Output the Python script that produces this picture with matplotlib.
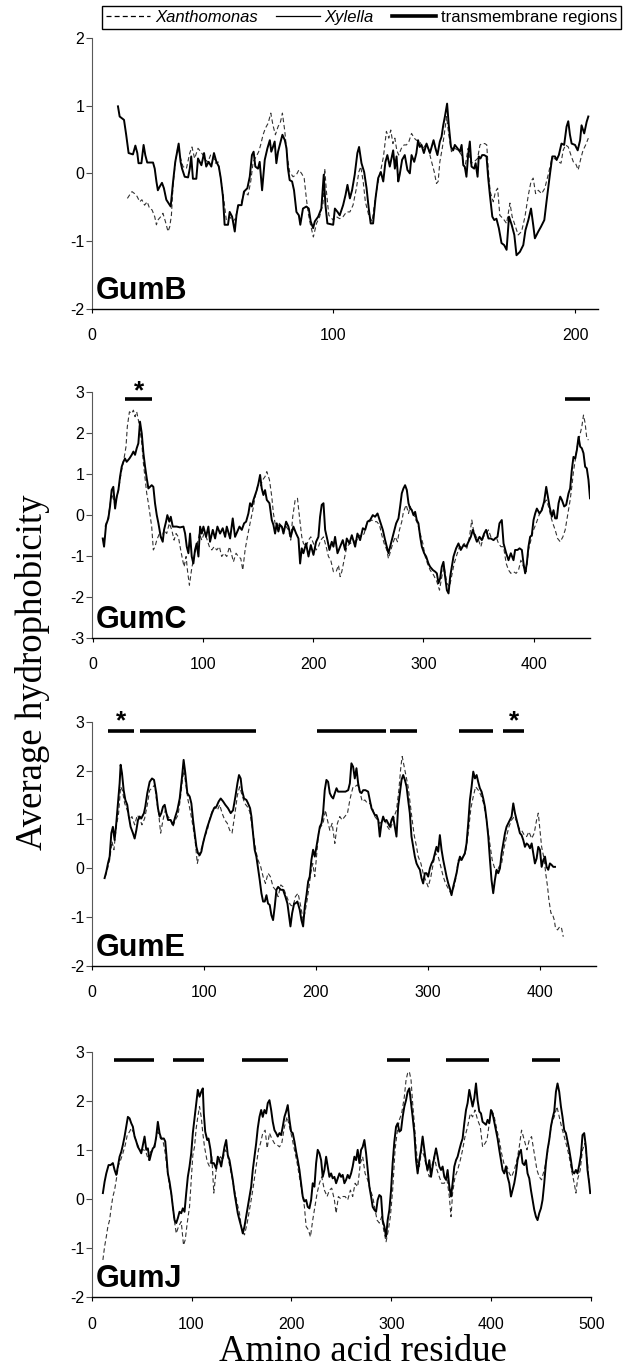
import matplotlib
matplotlib.use("Agg")
import matplotlib.pyplot as plt
from matplotlib.lines import Line2D

plt.rcParams['font.family'] = ['Liberation Sans', 'DejaVu Sans']
plt.rcParams['axes.unicode_minus'] = False

# ---------------- data (residue, average hydrophobicity) ----------------
gumB_xylella = [(10.9,0.99),(11.6,0.84),(13.4,0.79),(14.3,0.57),(15.3,0.30),(17.1,0.28),(18.1,0.41),(18.9,0.30),(19.4,0.15),(20.6,0.15),(21.5,0.42),(22.2,0.27),(23.0,0.16),(25.4,0.16),(26.1,0.07),(26.8,-0.12),(27.4,-0.25),(28.1,-0.20),(29.1,-0.14),(29.9,-0.22),(30.9,-0.39),(32.7,-0.49),(33.7,-0.12),(34.6,0.17),(36.0,0.44),(36.8,0.17),(37.4,0.07),(38.5,-0.05),(39.9,-0.06),(40.6,0.07),(41.2,0.25),(41.9,-0.08),(43.3,-0.08),(44.0,0.22),(45.4,0.12),(46.5,0.30),(47.4,0.10),(48.4,0.17),(49.5,0.10),(50.6,0.30),(51.6,0.17),(52.6,0.10),(53.4,-0.07),(54.3,-0.34),(55.0,-0.76),(56.4,-0.76),(57.1,-0.57),(58.1,-0.64),(59.2,-0.86),(59.9,-0.62),(60.6,-0.47),(62.0,-0.47),(63.0,-0.27),(64.4,-0.22),(65.4,-0.05),(66.3,0.27),(67.0,0.32),(67.7,0.10),(68.8,0.07),(69.5,0.17),(70.5,-0.25),(71.6,0.20),(72.7,0.37),(73.7,0.49),(74.3,0.32),(75.0,0.39),(75.7,0.47),(76.4,0.15),(77.1,0.32),(78.2,0.47),(78.9,0.57),(79.9,0.49),(80.6,0.37),(81.2,0.07),(81.9,-0.10),(82.9,-0.12),(83.7,-0.25),(84.7,-0.57),(85.7,-0.62),(86.3,-0.76),(87.4,-0.52),(88.8,-0.49),(89.8,-0.52),(90.6,-0.71),(91.6,-0.81),(92.3,-0.71),(93.7,-0.64),(95.0,-0.52),(96.0,-0.02),(96.7,-0.47),(97.5,-0.74),(99.9,-0.76),(100.6,-0.52),(101.7,-0.57),(102.6,-0.62),(104.0,-0.47),(105.0,-0.32),(105.8,-0.17),(106.8,-0.37),(107.7,-0.25),(108.8,-0.02),(109.9,0.30),(110.6,0.39),(111.6,0.15),(112.7,0.02),(113.7,-0.22),(114.6,-0.52),(115.4,-0.74),(116.4,-0.74),(117.4,-0.37),(118.5,-0.07),(119.6,0.02),(120.6,-0.12),(121.5,0.17),(122.3,0.27),(123.3,0.10),(124.7,0.34),(125.4,0.07),(126.1,0.25),(126.8,-0.12),(127.4,-0.02),(128.4,0.20),(129.5,0.27),(130.6,0.05),(131.6,0.00),(132.3,0.27),(133.4,0.17),(134.3,0.30),(135.0,0.49),(135.7,0.39),(136.4,0.42),(137.4,0.30),(138.5,0.44),(139.9,0.30),(140.6,0.39),(141.4,0.49),(142.2,0.37),(143.0,0.27),(144.0,0.47),(144.7,0.54),(145.4,0.71),(146.1,0.84),(147.0,1.03),(147.7,0.71),(148.6,0.39),(149.5,0.34),(150.2,0.42),(151.3,0.37),(152.3,0.32),(153.0,0.42),(153.7,0.12),(154.3,0.10),(155.0,-0.05),(155.7,0.27),(156.4,0.47),(157.1,0.10),(158.2,0.07),(158.8,0.15),(159.6,-0.05),(160.1,0.25),(160.8,0.22),(161.5,0.27),(162.3,0.27),(163.3,0.25),(164.0,-0.07),(164.7,-0.32),(165.7,-0.64),(166.5,-0.69),(167.4,-0.67),(168.4,-0.81),(169.5,-1.03),(170.6,-1.06),(171.6,-1.13),(172.6,-0.64),(173.7,-0.76),(174.8,-0.91),(175.7,-1.21),(177.1,-1.16),(178.5,-1.06),(179.4,-0.84),(180.6,-0.69),(181.7,-0.52),(182.6,-0.76),(183.3,-0.96),(184.7,-0.86),(185.8,-0.79),(187.2,-0.69),(188.1,-0.42),(189.5,-0.02),(190.5,0.25),(191.6,0.25),(192.3,0.20),(193.2,0.27),(194.3,0.44),(195.4,0.42),(196.4,0.69),(197.1,0.77),(197.8,0.57),(198.5,0.44),(199.9,0.42),(201.0,0.34),(202.0,0.49),(202.6,0.71),(203.7,0.59),(204.7,0.76),(205.4,0.84)]

gumB_xanthomonas = [(14.8,-0.37),(15.7,-0.32),(16.7,-0.27),(17.8,-0.30),(18.8,-0.34),(19.9,-0.42),(20.8,-0.39),(21.9,-0.47),(23.0,-0.42),(24.0,-0.52),(25.0,-0.54),(26.1,-0.64),(26.8,-0.76),(27.4,-0.69),(28.6,-0.64),(29.5,-0.59),(30.5,-0.71),(31.6,-0.86),(32.3,-0.79),(33.0,-0.62),(33.7,-0.17),(34.6,0.15),(35.7,0.39),(36.8,0.22),(37.8,0.10),(39.2,0.07),(40.6,0.30),(41.5,0.39),(42.6,0.22),(44.0,0.37),(45.1,0.32),(46.1,0.27),(47.0,0.20),(48.1,0.17),(49.2,0.27),(50.2,0.27),(51.2,0.15),(52.3,0.17),(53.4,-0.07),(54.8,-0.42),(55.7,-0.69),(57.1,-0.64),(58.5,-0.71),(59.4,-0.67),(60.6,-0.49),(62.0,-0.42),(63.3,-0.27),(64.7,-0.32),(65.8,-0.12),(66.8,0.17),(68.1,0.25),(69.1,0.32),(69.9,0.42),(70.9,0.57),(71.9,0.67),(73.0,0.74),(74.1,0.89),(75.0,0.71),(76.0,0.57),(77.1,0.69),(78.1,0.76),(78.9,0.89),(79.9,0.62),(80.8,0.27),(81.9,0.02),(83.3,-0.05),(84.7,-0.02),(85.7,0.05),(86.8,0.00),(87.9,-0.07),(88.8,-0.37),(89.5,-0.57),(90.2,-0.71),(91.2,-0.86),(91.7,-0.94),(93.0,-0.74),(94.3,-0.64),(95.7,-0.44),(96.4,0.07),(97.1,-0.27),(98.1,-0.62),(99.9,-0.69),(101.2,-0.64),(102.6,-0.67),(104.0,-0.64),(105.4,-0.57),(106.8,-0.57),(108.1,-0.47),(109.5,-0.22),(110.5,0.02),(111.3,0.10),(112.3,-0.12),(113.2,-0.42),(114.6,-0.62),(116.0,-0.71),(117.1,-0.42),(118.5,-0.12),(119.6,0.05),(120.7,0.25),(121.9,0.62),(122.9,0.52),(123.7,0.64),(124.6,0.44),(125.4,0.52),(126.2,0.34),(127.0,0.27),(128.1,0.37),(129.2,0.42),(130.2,0.42),(131.2,0.47),(132.3,0.59),(133.4,0.52),(134.3,0.49),(135.7,0.47),(137.1,0.37),(138.1,0.42),(139.2,0.37),(140.6,0.17),(141.7,0.02),(142.6,-0.15),(143.3,-0.12),(144.0,0.17),(145.0,0.37),(145.8,0.57),(146.8,0.84),(147.7,0.57),(148.8,0.32),(150.2,0.37),(151.6,0.34),(153.0,0.27),(154.3,0.07),(155.7,0.37),(156.8,0.15),(158.2,0.17),(159.6,0.22),(160.6,0.42),(161.5,0.44),(162.6,0.44),(163.4,0.42),(164.0,0.07),(164.8,-0.27),(166.1,-0.42),(167.0,-0.27),(167.9,-0.22),(168.8,-0.62),(170.2,-0.67),(171.6,-0.74),(173.0,-0.44),(173.9,-0.64),(175.0,-0.76),(176.4,-0.91),(177.8,-0.86),(179.2,-0.64),(180.6,-0.32),(181.7,-0.12),(182.6,-0.07),(183.6,-0.30),(184.7,-0.25),(186.1,-0.30),(187.4,-0.22),(188.8,-0.02),(190.2,0.20),(191.6,0.22),(193.0,0.17),(194.1,0.15),(195.0,0.34),(196.0,0.42),(197.1,0.39),(198.2,0.27),(199.2,0.17),(200.1,0.15),(201.2,0.05),(202.3,0.22),(203.2,0.34),(204.3,0.42),(205.4,0.52)]

gumC_xylella = [(9.1,-0.58),(10.3,-0.78),(12.1,-0.25),(14.2,-0.09),(15.7,0.20),(17.2,0.60),(18.7,0.68),(20.3,0.15),(21.8,0.44),(23.3,0.60),(24.8,0.93),(26.3,1.17),(27.8,1.29),(29.3,1.37),(30.8,1.29),(33.3,1.37),(35.4,1.46),(36.9,1.54),(38.4,1.46),(39.9,1.62),(41.4,1.74),(42.9,2.27),(44.5,1.98),(46.0,1.50),(47.5,1.17),(49.0,0.89),(50.5,0.64),(52.0,0.68),(53.5,0.72),(55.0,0.68),(56.5,0.28),(58.1,-0.01),(59.6,-0.21),(61.7,-0.54),(63.5,-0.66),(64.7,-0.37),(66.5,-0.17),(67.7,-0.01),(69.5,-0.17),(70.8,-0.05),(72.6,-0.29),(73.8,-0.29),(76.2,-0.29),(79.2,-0.31),(82.3,-0.29),(83.8,-0.46),(85.3,-0.78),(86.8,-0.94),(88.3,-0.46),(89.8,-1.02),(91.3,-1.19),(92.8,-0.86),(94.3,-0.70),(95.9,-1.02),(97.4,-0.29),(98.9,-0.46),(100.4,-0.29),(102.8,-0.54),(104.9,-0.29),(106.4,-0.66),(108.9,-0.37),(111.0,-0.58),(113.1,-0.29),(115.5,-0.46),(117.9,-0.33),(120.1,-0.54),(121.6,-0.29),(124.6,-0.58),(127.0,-0.09),(129.1,-0.54),(131.2,-0.41),(133.1,-0.29),(135.2,-0.37),(137.3,-0.21),(139.1,-0.17),(141.2,0.03),(142.7,0.28),(144.3,0.20),(145.8,0.36),(148.8,0.60),(150.3,0.76),(151.8,0.97),(153.3,0.64),(154.8,0.48),(156.3,0.60),(157.9,0.36),(160.3,0.28),(162.4,-0.13),(163.9,-0.25),(165.4,-0.46),(166.9,-0.21),(168.4,-0.41),(169.9,-0.25),(171.5,-0.29),(173.0,-0.46),(175.4,-0.17),(177.5,-0.29),(179.6,-0.54),(182.0,-0.29),(184.5,-0.46),(186.6,-0.58),(188.1,-1.19),(189.6,-0.82),(191.1,-0.94),(193.5,-0.70),(195.7,-1.02),(197.8,-0.74),(200.2,-0.98),(202.6,-0.66),(204.7,-0.54),(206.2,-0.05),(207.7,0.24),(209.3,0.28),(210.8,-0.37),(212.9,-0.62),(214.7,-0.86),(216.8,-0.66),(218.3,-0.78),(219.8,-0.54),(222.0,-0.94),(224.4,-0.78),(226.8,-0.62),(228.9,-0.86),(230.4,-0.58),(232.8,-0.70),(235.0,-0.50),(238.0,-0.78),(240.1,-0.46),(242.5,-0.62),(245.0,-0.33),(247.1,-0.37),(249.2,-0.17),(251.6,-0.13),(254.0,-0.01),(256.1,-0.05),(258.3,0.03),(260.7,-0.17),(263.1,-0.37),(265.2,-0.62),(266.7,-0.78),(268.2,-0.94),(269.7,-0.78),(271.2,-0.62),(272.8,-0.46),(275.2,-0.21),(277.3,-0.09),(278.8,0.20),(280.3,0.52),(281.8,0.64),(283.3,0.72),(284.9,0.60),(286.4,0.28),(287.9,0.15),(289.4,0.11),(290.9,-0.01),(292.4,0.07),(293.9,-0.13),(295.4,-0.21),(297.0,-0.54),(298.5,-0.78),(300.6,-0.94),(302.4,-1.02),(304.5,-1.19),(306.0,-1.27),(308.5,-1.35),(310.6,-1.39),(312.1,-1.43),(313.6,-1.67),(315.1,-1.55),(316.6,-1.27),(318.1,-1.15),(319.6,-1.51),(321.2,-1.84),(322.7,-1.92),(324.2,-1.51),(325.7,-1.27),(327.2,-1.02),(329.6,-0.82),(331.7,-0.70),(333.8,-0.86),(336.3,-0.74),(338.7,-0.78),(340.8,-0.66),(342.9,-0.54),(344.7,-0.37),(346.8,-0.54),(348.4,-0.66),(350.8,-0.54),(352.9,-0.62),(355.0,-0.46),(356.8,-0.37),(358.9,-0.58),(361.1,-0.58),(363.5,-0.62),(365.0,-0.58),(367.1,-0.54),(368.9,-0.21),(371.0,-0.13),(372.6,-0.70),(375.0,-0.94),(377.1,-1.11),(379.2,-0.94),(381.6,-1.11),(383.1,-0.86),(385.3,-0.86),(387.1,-0.82),(389.2,-0.86),(390.7,-1.19),(392.2,-1.43),(393.7,-1.19),(395.2,-0.78),(396.7,-0.54),(398.2,-0.50),(399.8,-0.13),(401.3,0.03),(402.8,0.15),(405.2,0.03),(407.3,0.11),(409.4,0.32),(411.3,0.68),(412.8,0.44),(414.3,0.20),(416.4,-0.05),(417.9,0.11),(419.4,-0.09),(420.9,-0.09),(422.5,0.28),(424.0,0.44),(425.5,0.36),(427.6,0.20),(429.4,0.24),(431.5,0.52),(433.0,0.64),(434.5,1.09),(436.0,1.41),(437.6,1.37),(439.1,1.58),(440.6,1.90),(442.1,1.66),(443.6,1.62),(445.1,1.50),(446.6,1.17),(448.1,1.13),(449.6,0.85),(451.0,0.40)]

gumC_xanthomonas = [(11.2,-0.29),(14.2,-0.05),(17.2,0.52),(20.3,0.24),(23.3,0.60),(26.3,1.09),(28.4,1.37),(30.2,1.66),(31.4,2.15),(33.3,2.51),(35.4,2.47),(36.9,2.55),(38.4,2.39),(39.9,2.51),(41.4,2.31),(42.9,2.07),(44.5,1.74),(46.0,1.25),(47.5,0.89),(49.0,0.52),(50.5,0.28),(52.0,-0.01),(53.5,-0.29),(55.0,-0.86),(56.5,-0.78),(58.1,-0.62),(60.5,-0.46),(62.6,-0.58),(64.7,-0.37),(67.1,-0.46),(69.5,-0.21),(71.7,-0.37),(73.8,-0.62),(75.6,-0.46),(77.7,-0.54),(79.8,-0.86),(81.6,-1.11),(82.9,-1.27),(84.7,-1.02),(85.9,-1.35),(87.7,-1.72),(89.8,-1.31),(91.9,-1.02),(94.3,-0.78),(96.8,-0.46),(98.9,-0.62),(101.0,-0.46),(103.4,-0.58),(105.8,-0.78),(108.0,-0.86),(110.1,-0.78),(112.5,-0.86),(114.9,-0.78),(117.0,-1.02),(119.1,-0.94),(121.6,-1.02),(124.0,-0.78),(126.1,-0.98),(127.6,-1.15),(130.0,-0.94),(132.1,-1.02),(134.3,-1.07),(136.1,-1.35),(138.2,-0.86),(140.3,-0.54),(142.7,-0.21),(145.2,0.11),(147.3,0.44),(149.4,0.68),(151.8,0.68),(154.2,0.85),(156.3,0.93),(157.9,1.05),(160.3,0.85),(162.4,0.44),(163.9,0.03),(165.4,-0.21),(167.5,-0.37),(169.3,-0.21),(171.5,-0.29),(173.6,-0.37),(175.4,-0.29),(177.5,-0.37),(179.6,-0.62),(181.4,-0.05),(183.6,0.36),(185.7,0.40),(187.5,-0.05),(189.6,-0.54),(191.1,-0.70),(193.5,-0.78),(195.7,-0.62),(197.8,-0.54),(200.2,-0.70),(202.6,-0.86),(204.7,-0.78),(206.8,-0.62),(209.3,-0.54),(211.7,-0.78),(213.8,-1.02),(215.9,-1.11),(218.3,-1.39),(220.8,-1.39),(222.9,-1.23),(224.4,-1.51),(225.9,-1.39),(228.0,-1.11),(230.4,-0.78),(233.5,-0.70),(236.5,-0.66),(239.5,-0.62),(241.9,-0.50),(244.0,-0.54),(246.2,-0.46),(248.6,-0.21),(251.0,-0.17),(253.1,-0.13),(255.2,-0.17),(257.6,-0.17),(260.1,-0.25),(262.2,-0.50),(264.3,-0.70),(266.7,-0.86),(268.2,-1.07),(270.4,-0.86),(272.2,-0.70),(274.3,-0.54),(276.4,-0.66),(278.2,-0.37),(280.3,-0.17),(281.8,0.07),(284.3,0.24),(286.4,0.03),(287.9,0.20),(290.3,0.07),(292.4,-0.09),(294.5,-0.21),(297.0,-0.46),(299.4,-0.70),(301.5,-1.02),(303.6,-1.19),(306.0,-1.35),(309.1,-1.47),(312.1,-1.63),(314.5,-1.84),(316.6,-1.51),(318.7,-1.27),(321.2,-1.67),(323.6,-1.76),(325.7,-1.47),(327.8,-1.19),(330.2,-0.98),(332.7,-0.78),(334.8,-0.78),(336.9,-0.70),(339.3,-0.82),(341.7,-0.54),(343.8,-0.13),(345.3,-0.37),(347.8,-0.54),(349.9,-0.62),(352.0,-0.78),(354.4,-0.54),(356.8,-0.46),(358.9,-0.37),(361.1,-0.54),(363.5,-0.62),(365.9,-0.54),(368.0,-0.70),(370.2,-0.78),(372.6,-0.78),(375.0,-1.19),(377.1,-1.35),(379.2,-1.43),(381.6,-1.39),(384.0,-1.43),(386.2,-1.35),(388.3,-1.11),(390.7,-1.27),(393.1,-1.39),(395.2,-0.86),(397.4,-0.62),(399.8,-0.37),(402.2,-0.21),(404.3,-0.05),(406.4,0.11),(408.9,0.24),(411.3,0.36),(413.4,0.20),(415.5,-0.05),(417.3,-0.21),(419.4,-0.37),(421.6,-0.58),(424.0,-0.66),(426.4,-0.54),(428.5,-0.37),(430.0,-0.13),(431.5,0.11),(433.0,0.36),(434.5,0.68),(436.0,1.05),(437.6,1.33),(439.1,1.62),(441.5,1.90),(443.6,2.15),(445.1,2.43),(446.6,2.23),(448.1,1.86),(449.6,1.82)]

gumE_xylella = [(11.6,-0.20),(13.1,-0.07),(14.6,0.10),(16.1,0.24),(17.6,0.72),(19.0,0.85),(20.5,0.58),(22.0,0.92),(23.5,1.33),(25.0,1.74),(25.9,2.12),(27.1,1.95),(28.6,1.60),(30.1,1.40),(31.8,1.30),(33.0,1.09),(34.8,0.85),(36.9,0.72),(38.4,0.61),(39.9,0.78),(41.4,0.99),(42.9,1.06),(44.3,1.02),(46.7,1.13),(47.9,1.26),(49.7,1.54),(51.8,1.77),(53.9,1.84),(55.7,1.81),(57.7,1.54),(59.2,1.23),(60.7,1.06),(62.2,1.13),(63.7,1.26),(65.2,1.30),(66.7,1.13),(68.2,0.99),(70.5,0.99),(72.6,0.89),(74.7,1.06),(76.5,1.19),(78.6,1.43),(80.7,1.88),(82.1,2.22),(83.6,1.95),(85.4,1.54),(87.5,1.47),(89.0,1.33),(90.5,0.99),(92.0,0.72),(93.5,0.44),(94.9,0.31),(96.4,0.27),(97.9,0.34),(99.4,0.51),(100.9,0.65),(103.3,0.85),(105.4,0.99),(107.4,1.13),(109.2,1.23),(111.3,1.26),(113.4,1.37),(115.2,1.43),(117.3,1.37),(119.3,1.30),(121.7,1.23),(124.1,1.13),(126.2,1.19),(128.3,1.47),(130.1,1.74),(131.5,1.91),(133.0,1.84),(134.2,1.60),(136.0,1.43),(138.1,1.40),(139.6,1.33),(141.4,1.23),(142.6,1.06),(144.0,0.72),(145.5,0.38),(147.0,0.24),(148.5,0.00),(150.0,-0.24),(151.5,-0.51),(153.0,-0.68),(154.5,-0.68),(156.0,-0.55),(157.4,-0.72),(158.9,-0.75),(160.4,-0.96),(161.9,-1.06),(163.4,-0.78),(164.9,-0.44),(166.4,-0.38),(168.8,-0.44),(170.8,-0.44),(172.9,-0.58),(174.7,-0.72),(176.2,-0.99),(177.4,-1.19),(178.9,-0.92),(180.7,-0.72),(181.8,-0.72),(183.6,-0.68),(185.7,-0.85),(187.2,-1.06),(188.7,-1.19),(190.2,-0.78),(191.7,-0.55),(193.2,-0.27),(194.6,-0.17),(196.1,0.17),(197.6,0.38),(199.1,0.24),(200.6,0.44),(202.1,0.65),(203.6,0.85),(205.1,0.92),(206.5,1.13),(208.0,1.60),(209.5,1.81),(211.0,1.77),(212.5,1.54),(214.0,1.47),(215.5,1.43),(217.0,1.54),(218.5,1.64),(219.9,1.57),(222.3,1.57),(224.4,1.57),(226.5,1.57),(228.9,1.60),(230.4,1.74),(231.8,2.15),(233.3,2.08),(234.8,1.84),(236.3,2.05),(237.8,1.74),(239.3,1.57),(240.8,1.54),(242.3,1.60),(244.3,1.60),(246.7,1.57),(248.2,1.40),(249.7,1.23),(251.2,1.16),(252.7,1.09),(254.2,1.09),(255.7,0.99),(257.1,0.65),(258.6,0.92),(260.1,1.06),(261.6,0.96),(263.1,0.99),(264.6,0.92),(266.1,0.85),(267.6,0.99),(269.0,1.06),(270.5,0.85),(272.0,0.65),(273.5,1.26),(275.0,1.54),(276.5,1.81),(278.0,1.91),(279.5,1.81),(281.0,1.67),(282.4,1.40),(283.9,1.13),(285.4,0.65),(286.9,0.44),(288.4,0.24),(289.9,0.10),(291.4,0.03),(292.9,-0.03),(294.3,-0.20),(295.8,-0.31),(297.3,-0.10),(298.8,-0.10),(300.3,-0.17),(301.8,0.00),(303.3,0.10),(304.8,0.17),(306.3,0.31),(307.7,0.44),(309.2,0.34),(310.7,0.68),(312.2,0.38),(313.7,0.17),(315.2,0.00),(316.7,-0.17),(318.2,-0.31),(319.6,-0.41),(321.1,-0.55),(322.6,-0.38),(324.1,-0.24),(325.6,-0.10),(327.1,0.10),(328.6,0.24),(330.1,0.17),(331.5,0.24),(333.0,0.31),(334.5,0.51),(336.0,0.92),(337.5,1.40),(339.0,1.67),(340.5,1.98),(342.0,1.84),(343.5,1.91),(344.9,1.77),(346.4,1.64),(347.9,1.57),(349.4,1.43),(350.9,1.26),(352.4,0.99),(353.9,0.65),(355.4,0.17),(356.8,-0.24),(358.3,-0.51),(359.8,-0.24),(361.3,-0.03),(362.8,-0.10),(364.3,0.00),(365.8,0.31),(367.3,0.51),(368.8,0.72),(370.2,0.85),(371.7,0.92),(373.2,0.99),(374.7,1.06),(376.2,1.33),(377.7,1.13),(379.2,0.99),(380.7,0.85),(382.1,0.72),(383.6,0.68),(385.1,0.58),(386.6,0.44),(388.1,0.51),(389.6,0.48),(391.1,0.41),(392.6,0.51),(394.0,0.31),(395.5,0.10),(397.0,0.20),(398.5,0.44),(400.0,0.38),(401.5,0.03),(403.0,0.17),(404.5,0.24),(405.9,0.03),(407.4,-0.03),(408.9,0.10),(410.4,0.07),(411.9,0.03),(413.4,0.03)]

gumE_xanthomonas = [(12.2,-0.17),(14.0,-0.03),(16.1,0.17),(18.2,0.55),(19.9,0.38),(22.0,0.85),(24.1,1.13),(25.9,1.67),(27.4,1.60),(29.5,1.33),(31.8,1.19),(33.9,0.99),(36.0,1.06),(38.4,0.89),(40.8,1.09),(42.9,1.02),(44.9,0.89),(47.3,1.02),(49.7,1.30),(51.8,1.60),(53.9,1.64),(56.3,1.71),(57.7,1.43),(59.8,1.13),(61.6,0.72),(63.7,0.99),(65.8,1.19),(68.2,1.06),(70.5,0.99),(72.6,0.85),(74.7,0.99),(77.1,1.09),(78.9,1.37),(81.0,1.81),(82.4,2.01),(83.9,1.74),(86.0,1.40),(88.4,1.13),(90.5,0.85),(92.6,0.51),(94.3,0.10),(96.4,0.31),(98.5,0.44),(100.9,0.65),(103.3,0.78),(105.4,1.02),(107.4,1.16),(109.8,1.26),(112.2,1.19),(114.3,1.30),(116.4,1.13),(118.8,0.99),(121.1,0.92),(123.2,0.78),(125.3,0.72),(127.7,1.09),(130.1,1.50),(132.1,1.67),(134.2,1.50),(136.6,1.33),(139.0,1.26),(141.1,1.16),(143.2,0.85),(145.5,0.51),(147.0,0.31),(148.5,0.17),(150.9,0.03),(153.0,-0.17),(155.1,-0.31),(157.4,-0.10),(159.5,-0.17),(161.9,-0.38),(164.0,-0.44),(166.4,-0.58),(168.8,-0.34),(170.8,-0.38),(172.9,-0.51),(175.3,-0.65),(177.4,-0.75),(179.8,-0.78),(181.8,-0.58),(184.2,-0.51),(186.6,-0.78),(188.7,-1.06),(190.2,-0.92),(192.3,-0.65),(194.0,-0.38),(195.5,-0.10),(197.3,0.10),(199.1,-0.17),(200.9,0.31),(202.7,0.78),(204.5,0.85),(206.5,0.92),(208.6,1.19),(210.4,0.99),(212.5,0.78),(214.6,0.92),(217.0,0.51),(219.3,0.92),(221.4,1.06),(223.5,0.99),(225.9,1.06),(228.3,1.13),(230.4,1.40),(231.8,1.54),(233.3,1.67),(234.8,1.67),(237.2,1.71),(239.3,1.57),(241.4,1.37),(243.8,1.40),(246.1,1.33),(248.2,1.33),(250.3,1.26),(252.7,1.06),(255.1,0.99),(257.1,0.92),(259.2,0.96),(261.6,0.99),(264.0,0.85),(266.1,0.78),(268.2,0.92),(269.9,1.06),(272.0,1.19),(274.1,1.60),(275.9,2.08),(277.1,2.29),(278.9,2.08),(281.0,1.84),(282.4,1.67),(284.2,1.33),(286.0,0.99),(287.8,0.68),(289.9,0.44),(291.4,0.24),(293.8,0.10),(295.8,-0.10),(297.9,-0.24),(300.3,-0.38),(302.7,-0.17),(304.8,0.10),(306.8,0.31),(309.2,0.24),(311.6,0.03),(313.7,-0.17),(315.8,-0.31),(318.2,-0.41),(320.5,-0.51),(322.6,-0.44),(324.7,-0.24),(327.1,0.17),(329.5,0.17),(331.5,0.24),(333.6,0.31),(336.0,0.72),(338.4,1.23),(340.5,1.47),(342.6,1.67),(345.0,1.60),(347.3,1.50),(349.7,1.33),(351.8,1.06),(353.9,0.72),(355.7,0.44),(357.4,0.17),(359.2,0.03),(361.3,-0.10),(363.4,0.03),(365.8,0.10),(368.2,0.44),(370.2,0.65),(372.3,0.85),(374.7,0.99),(377.1,1.06),(379.2,0.96),(381.3,0.82),(383.6,0.78),(386.0,0.68),(388.1,0.65),(390.2,0.75),(392.6,0.61),(394.9,0.72),(397.0,0.99),(398.5,1.13),(400.0,0.78),(401.5,0.44),(403.9,0.17),(405.1,-0.10),(406.8,-0.38),(408.0,-0.65),(409.8,-0.92),(410.9,-0.92),(412.8,-1.06),(413.9,-1.23),(415.7,-1.26),(417.8,-1.19),(419.3,-1.23),(420.8,-1.40)]

gumJ_xylella = [(11.3,0.12),(13.0,0.35),(14.7,0.52),(17.0,0.69),(19.0,0.69),(21.3,0.73),(23.0,0.59),(24.7,0.49),(26.3,0.66),(28.0,0.86),(29.7,0.96),(31.3,1.10),(33.0,1.27),(34.7,1.47),(36.3,1.67),(38.0,1.64),(39.7,1.54),(41.3,1.47),(43.0,1.27),(44.7,1.17),(46.3,1.06),(48.0,1.00),(49.7,0.93),(51.3,1.10),(53.0,1.27),(54.7,1.00),(56.3,1.03),(58.0,0.79),(59.7,0.93),(61.3,1.03),(63.0,1.06),(64.7,1.27),(66.3,1.57),(68.0,1.34),(69.7,1.23),(72.3,1.23),(73.7,1.17),(75.0,0.86),(76.3,0.52),(78.0,0.35),(79.7,0.12),(81.3,-0.16),(83.0,-0.43),(84.7,-0.49),(86.3,-0.39),(88.0,-0.26),(89.7,-0.29),(91.3,-0.19),(93.0,-0.26),(94.7,0.12),(96.3,0.45),(98.0,0.66),(99.7,0.93),(101.3,1.34),(103.0,1.64),(104.7,1.95),(106.3,2.22),(108.0,2.08),(109.7,2.18),(111.3,2.25),(112.3,1.74),(113.7,1.37),(115.7,1.20),(117.0,1.23),(119.0,1.00),(120.3,0.73),(122.3,0.73),(124.7,0.62),(126.3,0.86),(128.0,0.79),(129.7,0.66),(131.3,0.86),(133.0,1.06),(134.7,1.20),(136.3,0.89),(138.0,0.79),(139.7,0.59),(141.3,0.39),(143.0,0.12),(144.7,-0.09),(146.3,-0.29),(148.0,-0.43),(149.7,-0.56),(151.3,-0.70),(153.0,-0.56),(154.7,-0.36),(156.3,-0.16),(158.0,0.05),(159.7,0.25),(161.3,0.59),(163.0,0.86),(164.7,1.13),(166.3,1.44),(168.0,1.67),(169.7,1.81),(171.3,1.67),(173.0,1.81),(174.7,1.74),(176.3,1.95),(178.0,2.01),(179.7,1.81),(181.3,1.57),(183.0,1.40),(184.7,1.34),(186.3,1.27),(188.0,1.34),(189.7,1.30),(191.3,1.47),(193.0,1.67),(194.7,1.78),(196.3,1.91),(198.0,1.61),(199.7,1.37),(201.3,1.34),(203.0,1.17),(204.7,0.96),(206.3,0.79),(208.0,0.59),(209.7,0.32),(211.3,0.05),(213.0,-0.05),(214.7,-0.02),(216.3,-0.16),(218.0,-0.19),(219.7,-0.02),(221.3,0.32),(223.0,0.25),(224.7,0.73),(226.3,1.00),(228.0,0.93),(229.7,0.79),(231.3,0.45),(233.0,0.59),(234.7,0.86),(236.3,0.66),(238.0,0.45),(239.7,0.52),(241.3,0.42),(243.0,0.45),(244.7,0.32),(246.3,0.42),(248.0,0.52),(249.7,0.45),(251.3,0.49),(253.0,0.32),(254.7,0.39),(256.3,0.49),(258.0,0.42),(259.7,0.52),(261.3,0.66),(263.0,0.86),(264.7,0.79),(266.3,1.00),(268.0,0.73),(269.7,1.00),(271.3,1.06),(273.0,1.20),(274.7,0.93),(276.3,0.59),(278.0,0.25),(279.7,0.05),(281.3,-0.16),(283.0,-0.22),(284.7,-0.26),(286.3,-0.02),(288.0,0.08),(289.7,0.05),(291.3,-0.43),(293.0,-0.56),(294.7,-0.77),(296.3,-0.43),(298.0,-0.22),(299.7,0.18),(301.3,0.73),(303.0,1.17),(304.7,1.47),(306.3,1.54),(308.0,1.37),(309.7,1.40),(311.3,1.67),(313.0,1.88),(314.7,2.01),(316.3,2.18),(318.0,2.25),(319.7,1.95),(321.3,1.67),(323.0,1.34),(324.7,0.79),(326.3,0.52),(328.0,0.79),(329.7,1.00),(331.3,1.27),(333.0,1.00),(334.7,0.73),(336.3,0.59),(338.0,0.79),(339.7,0.45),(341.3,0.66),(343.0,0.86),(344.7,1.03),(346.3,0.86),(348.0,0.66),(349.7,0.59),(351.3,0.66),(353.0,0.45),(354.7,0.39),(356.3,0.59),(358.0,0.25),(359.7,0.05),(361.3,0.32),(363.0,0.66),(364.7,0.79),(366.3,0.86),(368.0,1.00),(369.7,1.13),(371.3,1.23),(373.0,1.54),(374.7,1.81),(376.3,1.95),(378.0,2.22),(379.7,2.05),(381.3,1.88),(383.0,2.05),(384.7,2.35),(386.3,2.01),(388.0,1.78),(389.7,1.74),(391.3,1.57),(393.0,1.54),(394.7,1.51),(396.3,1.61),(398.0,1.54),(399.7,1.81),(401.3,1.74),(403.0,1.57),(404.7,1.40),(406.3,1.23),(408.0,1.00),(409.7,0.79),(411.3,0.59),(413.0,0.52),(414.7,0.66),(416.3,0.45),(418.0,0.32),(419.7,0.05),(421.3,0.18),(423.0,0.32),(424.7,0.52),(426.3,0.79),(428.0,0.93),(429.7,1.00),(431.3,0.73),(433.0,0.69),(434.7,0.79),(436.3,0.52),(438.0,0.42),(439.7,0.18),(441.3,-0.02),(443.0,-0.22),(444.7,-0.36),(446.3,-0.43),(448.0,-0.29),(449.7,-0.19),(451.3,-0.02),(453.0,0.32),(454.7,0.73),(456.3,1.00),(458.0,1.20),(459.7,1.47),(461.3,1.64),(463.0,1.78),(464.7,2.18),(466.3,2.35),(468.0,2.18),(469.7,1.88),(471.3,1.67),(473.0,1.40),(474.7,1.34),(476.3,1.17),(478.0,1.00),(479.7,0.79),(481.3,0.56),(483.0,0.52),(484.7,0.59),(486.3,0.52),(488.0,0.69),(489.7,0.89),(491.3,1.30),(493.0,1.34),(494.7,1.06),(496.3,0.59),(498.0,0.32),(499.0,0.12)]

gumJ_xanthomonas = [(11.3,-1.24),(13.0,-0.97),(14.7,-0.77),(16.3,-0.56),(18.0,-0.43),(19.7,-0.16),(21.3,0.05),(23.0,0.18),(24.7,0.39),(27.0,0.69),(29.0,0.79),(31.3,0.93),(33.7,1.10),(35.7,1.30),(38.0,1.37),(39.7,1.44),(42.3,1.34),(44.7,1.17),(47.0,1.06),(49.7,1.00),(52.3,1.00),(54.7,0.93),(57.0,0.79),(59.0,0.96),(61.3,1.00),(63.7,1.17),(66.3,1.37),(69.0,1.23),(71.3,1.20),(73.7,0.93),(75.7,0.59),(78.0,0.25),(80.3,0.05),(82.3,-0.36),(84.7,-0.70),(87.0,-0.56),(89.7,-0.46),(92.0,-0.94),(93.7,-0.83),(95.7,-0.49),(98.0,-0.16),(99.7,0.39),(101.3,0.89),(103.0,1.06),(104.7,1.44),(106.3,1.67),(108.0,1.88),(109.7,1.67),(111.3,1.34),(113.0,1.06),(115.7,0.76),(118.0,0.66),(120.3,0.86),(122.3,0.12),(124.7,0.59),(127.0,0.79),(129.0,0.86),(131.3,0.79),(133.7,1.00),(135.7,0.93),(138.0,0.69),(140.3,0.45),(143.0,0.18),(145.7,-0.09),(148.0,-0.29),(150.3,-0.63),(153.0,-0.73),(155.7,-0.49),(158.0,-0.22),(160.3,0.05),(162.3,0.32),(164.7,0.66),(167.0,1.00),(169.0,1.13),(171.3,1.34),(173.7,1.40),(175.7,1.03),(178.0,1.34),(180.3,1.23),(183.0,1.13),(185.7,1.10),(188.0,1.06),(190.3,1.13),(193.0,1.47),(195.7,1.67),(198.0,1.47),(200.3,1.27),(203.0,1.00),(205.7,0.73),(208.0,0.45),(210.3,0.18),(213.0,-0.16),(214.7,-0.56),(217.0,-0.63),(219.0,-0.77),(221.3,-0.43),(223.0,-0.22),(225.7,0.12),(228.0,0.32),(230.3,0.45),(233.0,0.18),(235.7,0.05),(238.0,0.18),(240.3,0.22),(243.0,-0.02),(244.7,-0.29),(247.0,0.05),(249.0,0.01),(251.3,0.05),(253.7,0.05),(256.3,-0.02),(259.0,0.18),(261.3,0.05),(263.7,0.32),(266.3,0.25),(269.0,0.73),(271.3,0.86),(273.7,0.52),(276.3,0.39),(279.0,0.18),(281.3,0.05),(283.7,-0.22),(285.7,-0.43),(288.0,-0.49),(290.3,-0.36),(292.3,-0.63),(294.7,-0.87),(297.0,-0.63),(299.0,-0.36),(301.3,0.18),(303.7,1.00),(305.7,1.34),(308.0,1.61),(310.3,1.74),(313.0,2.08),(314.7,2.42),(316.3,2.56),(318.0,2.59),(319.7,2.42),(321.3,1.95),(323.0,1.54),(324.7,1.06),(326.3,0.73),(328.0,0.66),(330.3,1.00),(333.0,0.86),(335.7,0.59),(338.0,0.45),(340.3,0.66),(343.0,0.86),(345.7,0.59),(348.0,0.45),(350.3,0.32),(353.0,0.32),(355.7,0.39),(358.0,0.05),(359.7,-0.36),(361.3,0.12),(363.7,0.45),(366.3,0.59),(369.0,0.79),(371.3,1.00),(373.7,1.27),(376.3,1.47),(379.0,1.74),(381.3,1.67),(383.7,1.81),(386.3,1.61),(389.0,1.47),(391.3,1.06),(393.7,1.13),(395.7,1.20),(398.0,1.54),(400.3,1.81),(403.0,1.67),(405.7,1.40),(408.0,1.20),(410.3,0.93),(413.0,0.69),(415.7,0.66),(418.0,0.52),(420.3,0.45),(423.0,0.59),(425.7,0.79),(428.0,1.06),(430.3,1.40),(433.0,1.20),(435.7,1.00),(438.0,1.20),(440.3,1.27),(443.0,0.93),(445.7,0.59),(448.0,0.45),(450.3,0.39),(453.0,0.59),(455.7,0.86),(458.0,1.20),(460.3,1.54),(463.0,1.67),(465.7,1.88),(468.0,1.67),(470.3,1.47),(473.0,1.27),(475.7,1.06),(478.0,0.86),(480.3,0.59),(483.0,0.32),(484.7,0.12),(486.3,0.39),(489.0,0.59),(491.3,1.00),(493.7,1.13),(496.3,0.73),(498.0,0.32)]

# transmembrane regions (start, end) and starred regions (centre)
gumC_tm = [(29, 54), (428, 451)]
gumC_star = [42]
gumE_tm = [(15, 38), (43, 147), (201, 263), (266, 290), (328, 358), (367, 386)]
gumE_star = [26.5, 377]
gumJ_tm = [(22, 62), (81, 112), (151, 197), (296, 319), (355, 398), (441, 469)]
gumJ_star = []

panel_names = ['GumB', 'GumC', 'GumE', 'GumJ']
legend_labels = ['Xanthomonas', 'Xylella', 'transmembrane regions']
x_label = 'Amino acid residue'
y_label = 'Average hydrophobicity'

# ---------------- figure ----------------
W, H = 627, 1370
fig = plt.figure(figsize=(W / 100, H / 100), dpi=100)


def rect(left, right, top, bottom):
    return [left / W, 1 - bottom / H, (right - left) / W, (bottom - top) / H]


panels = [
    dict(name=panel_names[0], xyl=gumB_xylella, xan=gumB_xanthomonas, tm=[], star=[],
         ylim=(-2, 2), yticks=[-2, -1, 0, 1, 2], xlim=(0, 209.4), xticks=[0, 100, 200],
         box=rect(91.6, 598, 38, 308.7)),
    dict(name=panel_names[1], xyl=gumC_xylella, xan=gumC_xanthomonas, tm=gumC_tm, star=gumC_star,
         ylim=(-3, 3), yticks=[-3, -2, -1, 0, 1, 2, 3], xlim=(-1, 451),
         xticks=[0, 100, 200, 300, 400], box=rect(91.6, 590, 391.7, 637.7)),
    dict(name=panel_names[2], xyl=gumE_xylella, xan=gumE_xanthomonas, tm=gumE_tm, star=gumE_star,
         ylim=(-2, 3), yticks=[-2, -1, 0, 1, 2, 3], xlim=(0, 450),
         xticks=[0, 100, 200, 300, 400], box=rect(91.6, 596, 721.8, 966)),
    dict(name=panel_names[3], xyl=gumJ_xylella, xan=gumJ_xanthomonas, tm=gumJ_tm, star=gumJ_star,
         ylim=(-2, 3), yticks=[-2, -1, 0, 1, 2, 3], xlim=(0, 500),
         xticks=[0, 100, 200, 300, 400, 500], box=rect(91.6, 591.2, 1051.5, 1297.3)),
]

TM_Y = 2.82
for p in panels:
    ax = fig.add_axes(p['box'])
    xs = [a for a, b in p['xan']]
    ys = [b for a, b in p['xan']]
    ax.plot(xs, ys, color='0.2', lw=0.8, dashes=(4, 2.5))
    xs = [a for a, b in p['xyl']]
    ys = [b for a, b in p['xyl']]
    ax.plot(xs, ys, color='black', lw=1.4)
    for a, b in p['tm']:
        ax.plot([a, b], [TM_Y, TM_Y], color='black', lw=2.6, solid_capstyle='butt')
    for s in p['star']:
        ax.text(s, TM_Y + 0.2, '*', ha='center', va='center', fontsize=19,
                fontweight='bold', clip_on=False)
    ax.set_xlim(*p['xlim'])
    ax.set_ylim(*p['ylim'])
    ax.set_xticks(p['xticks'])
    ax.set_yticks(p['yticks'])
    for side in ('top', 'right'):
        ax.spines[side].set_visible(False)
    ax.spines['left'].set_color('0.35')
    ax.spines['left'].set_linewidth(0.8)
    ax.spines['bottom'].set_color('black')
    ax.spines['bottom'].set_linewidth(1.0)
    ax.tick_params(axis='y', direction='out', length=4, width=0.8, pad=1.2,
                   labelsize=11.5, color='0.3')
    ax.tick_params(axis='x', direction='out', length=3, width=0.8, pad=11,
                   labelsize=11.5)
    ax.patch.set_alpha(0)
    ax.annotate(p['name'], xy=(0, 0), xycoords='axes fraction', xytext=(3, 7.2),
                textcoords='offset points', ha='left', va='baseline',
                fontsize=22, fontweight='bold')

# legend
handles = [Line2D([], [], color='black', lw=0.9, dashes=(4, 2.5)),
           Line2D([], [], color='black', lw=0.9),
           Line2D([], [], color='black', lw=2.6)]
leg = fig.legend(handles, legend_labels, loc='upper left',
                 bbox_to_anchor=(102 / W, 1 - 6 / H), bbox_transform=fig.transFigure,
                 ncol=3, frameon=True, fancybox=False, edgecolor='black', framealpha=1,
                 borderpad=0.25, borderaxespad=0, handlelength=2.65, handletextpad=0.3,
                 columnspacing=1.05, fontsize=12)
leg.get_frame().set_linewidth(1.0)
leg.get_texts()[0].set_fontstyle('italic')
leg.get_texts()[1].set_fontstyle('italic')

# axis titles
fig.text(32.5 / W, 1 - 672.5 / H, y_label, rotation=90, ha='center', va='center',
         fontsize=26.5, family=['Liberation Serif', 'DejaVu Serif'])
fig.text(363 / W, 1 / H, x_label, ha='center', va='bottom',
         fontsize=26.5, family=['Liberation Serif', 'DejaVu Serif'])

fig.savefig('out.png', dpi=100)
